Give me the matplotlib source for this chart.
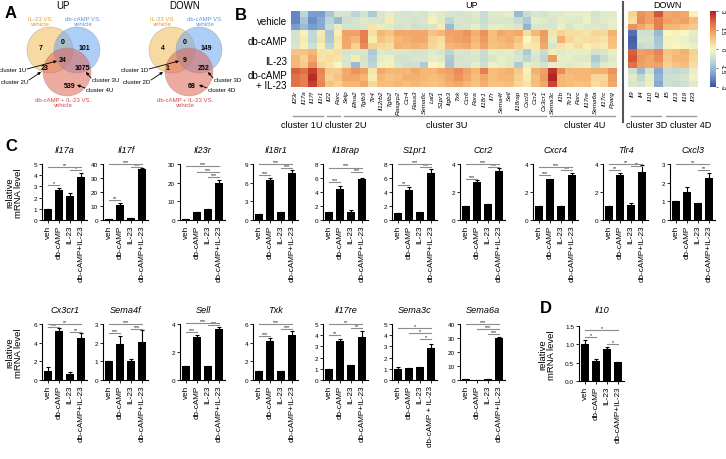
import numpy as np
import matplotlib
matplotlib.use('Agg')
import matplotlib.pyplot as plt
from matplotlib.colors import LinearSegmentedColormap
from matplotlib.patches import Circle

plt.rcParams['font.family'] = ['Liberation Sans', 'DejaVu Sans']

# ---------------- DATA ----------------
venn_up_counts = [7, 0, 101, 24, 23, 1075, 539]
venn_down_counts = [4, 0, 149, 9, 1, 252, 68]

heat_rows = ['vehicle', 'db-cAMP', 'IL-23', 'db-cAMP\n+ IL-23']
cbar_ticks = [-3, -1.5, 0, 1.5, 3]
cbar_labels = ['-3', '-1.5', '0', '1.5', '3']

c1u_genes = ['Il23r', 'Il17a', 'Il17f', 'Il1r1']
c1u = [
    [-2.3, -2.3, -2.0, -0.6, -0.6, -0.5, 0.8, 1.0, 1.0, 2.2, 2.0, 2.0],
    [-1.0, -1.3, -1.5, 0.1, 0.2, 0.1, 0.8, 0.6, 0.7, 2.0, 1.8, 1.8],
    [-2.0, -2.2, -2.0, -0.9, -0.9, -0.7, 1.0, 1.2, 1.5, 2.6, 2.8, 2.6],
    [-2.0, -1.8, -1.8, 0.2, 0.3, 0.1, 0.3, 0.3, 0.5, 1.7, 1.6, 1.7],
]
c2u_genes = ['Il22', 'Rorc']
c2u = [
    [-1.3, -1.0, -0.8, -1.3, -1.2, -1.0, 0.3, 0.4, 0.3, 0.7, 0.6, 0.8],
    [-0.5, -1.5, -0.3, 0.1, 0.3, 0.2, 0.4, 0.3, 0.0, 0.7, 0.8, 0.6],
]
c3u_genes = ['Selp', 'Efna2', 'Tgfb3', 'Tlr4', 'Il12rb2', 'Tgfb2', 'Rasgrp2',
             'Ccr4', 'Rasa3', 'Sema6c', 'Lat2', 'S1pr1', 'Itgb3', 'Txk', 'Ccr6',
             'Rora', 'Il18r1', 'Il7r', 'Sema4f', 'Sell', 'Il18rap', 'Cxcl3',
             'Ccr2', 'Cx3cr1']
c3u = [
    [-0.6, -0.7, -0.6, 1.3, 1.2, 1.2, -0.6, -0.5, -0.5, 1.2, 1.2, 1.0],
    [-1.0, -0.6, -0.6, 1.3, 1.0, 0.6, -0.5, 0.2, -1.5, 1.5, 1.2, 1.0],
    [-0.6, -0.4, -0.5, 1.8, 1.8, 1.6, -0.5, -0.6, -0.5, 1.3, 1.0, 1.2],
    [-1.2, -0.5, 0.3, 0.4, 0.2, 0.6, -1.2, -1.1, -1.0, 0.3, 0.2, 0.5],
    [-0.5, -0.5, -0.3, 1.0, 0.8, 0.5, -0.4, -0.3, -0.2, 1.2, 1.0, 0.9],
    [-0.3, 0.2, -0.4, 0.8, 0.6, 0.4, -0.5, -0.2, 0.1, 1.0, 0.8, 0.9],
    [-0.5, -0.5, -0.6, 1.2, 1.0, 1.1, -0.5, -0.6, -0.5, 1.0, 0.9, 1.0],
    [-0.6, -0.5, -0.5, 1.2, 1.1, 1.0, -0.5, -0.6, -0.7, 1.0, 1.1, 0.9],
    [-0.5, -0.6, -0.7, 1.2, 1.2, 1.1, -0.6, -0.5, -0.7, 1.2, 1.1, 1.0],
    [-0.6, -0.5, -0.6, 1.2, 1.2, 1.0, -0.6, -0.5, -1.2, 1.0, 1.0, 0.9],
    [-0.3, 0.1, -0.5, 0.8, 0.6, 0.5, -0.4, -0.3, 0.0, 1.0, 0.9, 0.8],
    [-0.4, -0.4, 0.2, 1.0, 0.4, 0.3, -0.5, -0.4, -0.1, 1.2, 1.0, 0.9],
    [-0.5, -1.0, -1.5, 1.3, 1.2, 1.0, -1.0, -1.2, -1.3, 1.3, 1.2, 1.1],
    [-0.6, -0.5, -0.6, 1.3, 1.3, 1.1, -0.5, -0.6, -0.5, 1.6, 1.5, 1.2],
    [-0.5, -0.6, -0.5, 1.5, 1.4, 1.2, -0.6, -0.5, -0.6, 1.3, 1.2, 1.0],
    [-0.4, -0.5, -0.3, 1.1, 1.0, 0.9, -0.4, -0.5, -0.3, 1.0, 0.9, 0.8],
    [-0.8, -0.8, -0.7, 1.5, 1.4, 1.3, -0.8, -0.8, -0.7, 1.8, 1.2, 1.1],
    [-0.4, -0.5, -0.3, 0.9, 0.9, 0.8, -0.3, -0.5, -0.2, 0.9, 0.9, 0.8],
    [-0.4, -0.5, -0.3, 1.2, 1.0, 0.9, -0.4, -0.3, -0.3, 1.0, 1.0, 0.8],
    [-0.3, -0.5, -0.4, 1.1, 1.1, 1.0, -0.3, -0.4, -0.4, 1.1, 1.0, 0.9],
    [-1.5, -0.8, -0.5, 1.2, 0.8, 0.6, -0.6, -0.5, -1.2, 0.7, 0.6, 0.5],
    [-0.8, -1.2, -1.6, 0.4, 0.0, 0.2, -1.2, -1.0, -0.3, 0.1, 0.2, 0.3],
    [-0.5, -0.3, -0.5, 1.0, 0.4, 0.3, -0.4, -0.5, -0.4, 1.1, 0.9, 0.9],
    [-0.6, -0.4, -0.5, 1.4, 1.3, 1.2, -0.8, -1.0, -0.6, 1.3, 1.4, 1.2],
]
c4u_genes = ['Sema3c', 'Il1b', 'Tlr12', 'Rorc', 'Il17re', 'Sema6a', 'Il17rc', 'Pparg']
c4u = [
    [-0.4, -0.5, -0.5, 0.3, -0.3, -0.5, 0.2, 1.4, -0.3, 2.7, 2.9, 2.5],
    [-0.4, -0.3, -0.2, 0.6, 1.1, 0.3, -0.4, -0.3, -0.3, 1.6, 1.0, 1.0],
    [-0.3, -0.4, -0.5, 0.4, 0.5, 0.2, -0.3, -0.3, -0.4, 1.0, 0.9, 0.9],
    [-0.3, -0.4, -0.3, 0.4, 0.3, 0.4, -0.3, -0.4, -0.3, 1.0, 1.0, 0.8],
    [-0.3, -0.2, -0.4, 0.3, 0.4, 0.1, -0.3, -0.4, -0.2, 1.0, 1.0, 0.9],
    [-0.6, -0.5, -0.4, 0.5, 0.4, 0.3, -0.6, -1.2, -0.9, 1.1, 0.5, 0.4],
    [-0.4, -0.4, -0.5, 0.5, 0.3, 0.2, -0.5, -0.8, -0.4, 1.1, 0.5, 0.6],
    [-0.4, -0.3, -0.3, 1.1, 0.9, 0.8, -0.3, -0.4, -0.3, 1.5, 1.3, 1.2],
]
c3d_genes = ['Il9', 'Il4', 'Il10', 'Il2']
c3d = [
    [0.6, 0.4, 1.5, -2.6, -2.8, -2.7, 2.2, 2.3, 2.0, -0.7, -0.4, -0.5],
    [1.5, 1.6, 1.2, -0.7, -0.6, -0.8, 1.3, 1.4, 1.3, -1.5, -0.9, -0.6],
    [1.3, 1.3, 0.9, -0.7, -0.6, -0.7, 1.4, 1.2, 1.2, -0.6, -0.3, -0.2],
    [2.3, 1.8, 1.8, -1.5, -1.3, -1.2, 1.7, 1.6, 1.3, -1.8, -1.6, -1.8],
]
c4d_genes = ['Il5', 'Il13', 'Il19', 'Il33']
c4d = [
    [1.2, 1.3, 1.0, 0.0, 0.1, -0.1, 0.8, 0.7, 0.6, -0.8, -0.7, -0.7],
    [1.3, 1.2, 1.0, 0.1, -0.1, 0.0, 0.9, 1.0, 0.8, -0.9, -0.7, -0.8],
    [1.2, 1.3, 0.8, 0.0, -0.2, -0.1, 1.1, 1.0, 0.9, -0.8, -0.6, -0.7],
    [0.1, 0.9, 0.7, -0.3, -0.4, -0.2, 0.6, 0.5, 0.4, -0.3, -0.1, -0.4],
]

bar_groups = ['veh', 'db-cAMP', 'IL-23', 'db-cAMP+IL-23']

row1_genes = ['Il17a', 'Il17f', 'Il23r', 'Il18r1', 'Il18rap', 'S1pr1', 'Ccr2', 'Cxcr4', 'Tlr4', 'Cxcl3']
row1_means = [
    [1.0, 2.7, 2.15, 3.85],
    [1.0, 11.0, 1.5, 36.5],
    [0.5, 4.5, 6.0, 20.0],
    [1.0, 6.5, 1.3, 7.5],
    [1.1, 4.4, 1.1, 5.9],
    [1.0, 4.3, 1.1, 6.7],
    [1.0, 2.75, 1.15, 3.5],
    [1.0, 2.95, 1.0, 3.2],
    [1.0, 3.2, 1.05, 3.4],
    [1.0, 1.5, 0.9, 2.25],
]
row1_errs = [
    [0.0, 0.15, 0.3, 0.35],
    [0.0, 1.5, 0.0, 1.0],
    [0.0, 0.0, 0.0, 1.5],
    [0.0, 0.3, 0.0, 0.6],
    [0.0, 0.4, 0.3, 0.1],
    [0.0, 0.4, 0.0, 0.6],
    [0.0, 0.1, 0.0, 0.2],
    [0.0, 0.0, 0.0, 0.15],
    [0.0, 0.15, 0.15, 0.55],
    [0.0, 0.25, 0.0, 0.25],
]
row1_yticks = [
    [0, 1, 2, 3, 4, 5], [0, 10, 20, 30, 40], [0, 10, 20, 30], [0, 3, 6, 9],
    [0, 2, 4, 6, 8], [0, 2, 4, 6, 8], [0, 2, 4], [0, 2, 4], [0, 2, 4], [0, 1, 2, 3],
]
row1_sigs = [
    [(0, 1, 3.1, '*'), (0, 3, 4.7, '**'), (2, 3, 4.45, '*')],
    [(0, 1, 14, '**'), (0, 3, 40, '***'), (2, 3, 38, '***')],
    [(0, 3, 29, '***'), (1, 3, 25.5, '***'), (2, 3, 23, '***')],
    [(0, 1, 7.3, '***'), (0, 3, 9.0, '***'), (2, 3, 8.3, '***')],
    [(0, 1, 5.4, '***'), (0, 3, 7.5, '***'), (2, 3, 6.9, '***')],
    [(0, 1, 5.0, '**'), (0, 3, 8.0, '***'), (2, 3, 7.6, '***')],
    [(0, 1, 2.95, '***'), (0, 3, 4.0, '***'), (2, 3, 3.8, '***')],
    [(0, 1, 3.2, '***'), (0, 3, 3.8, '***'), (2, 3, 3.6, '***')],
    [(0, 1, 3.6, '**'), (0, 3, 4.0, '**'), (2, 3, 3.85, '**')],
    [(0, 3, 3.0, '**'), (2, 3, 2.7, '**')],
]

row2_genes = ['Cx3cr1', 'Sema4f', 'Sell', 'Txk', 'Il17re', 'Sema3c', 'Sema6a']
row2_means = [
    [1.0, 5.2, 0.6, 4.5],
    [1.0, 1.95, 1.0, 2.05],
    [1.0, 3.1, 1.0, 3.65],
    [1.0, 4.2, 1.0, 4.8],
    [1.0, 3.5, 1.35, 3.8],
    [0.95, 1.1, 1.2, 2.85],
    [1.0, 0.3, 0.8, 30.0],
]
row2_errs = [
    [0.35, 0.4, 0.25, 0.5],
    [0.0, 0.4, 0.1, 0.65],
    [0.0, 0.1, 0.0, 0.15],
    [0.0, 0.3, 0.0, 0.4],
    [0.0, 0.15, 0.0, 0.55],
    [0.2, 0.0, 0.0, 0.4],
    [0.0, 0.0, 0.0, 1.0],
]
row2_yticks = [
    [0, 2, 4, 6], [0, 1, 2, 3], [0, 2, 4], [0, 2, 4, 6], [0, 1, 2, 3, 4, 5],
    [0, 1, 2, 3, 4, 5], [0, 10, 20, 30, 40],
]
row2_sigs = [
    [(0, 1, 5.7, '***'), (0, 3, 6.0, '**'), (2, 3, 5.1, '**')],
    [(0, 1, 2.5, '***'), (0, 3, 3.0, '***'), (2, 3, 2.75, '***')],
    [(0, 1, 3.4, '***'), (0, 3, 4.1, '***'), (2, 3, 3.9, '***')],
    [(0, 1, 4.7, '***'), (0, 3, 6.0, '***'), (2, 3, 5.5, '***')],
    [(0, 1, 4.0, '**'), (0, 3, 5.0, '**'), (2, 3, 4.6, '**')],
    [(0, 3, 4.6, '*'), (1, 3, 4.2, '*'), (2, 3, 3.7, '*')],
    [(0, 3, 40, '***'), (1, 3, 36.5, '***'), (2, 3, 33, '***')],
]

d_gene = 'Il10'
d_means = [1.0, 0.55, 0.88, 0.52]
d_errs = [0.12, 0.05, 0.05, 0.0]
d_yticks = [0.0, 0.5, 1.0, 1.5]
d_sigs = [(0, 1, 1.2, '*'), (0, 3, 1.4, '*'), (2, 3, 1.0, '*')]

# ---------------- FIGURE ----------------
W, H = 726, 460
fig = plt.figure(figsize=(7.26, 4.6), dpi=100)


def box(x0, y0, x1, y1):
    return [x0 / W, 1 - y1 / H, (x1 - x0) / W, (y1 - y0) / H]


ov = fig.add_axes([0, 0, 1, 1])
ov.set_xlim(0, W)
ov.set_ylim(H, 0)
ov.axis('off')

# panel letters
for lt, (lx, ly) in zip('ABCD', [(11, 14), (241, 15), (11, 147), (546, 309)]):
    ov.text(lx, ly, lt, fontsize=12, fontweight='bold', ha='center', va='center')

# ---------------- A: Venn ----------------
YEL, BLU, RED = '#f0bd55', '#6aa6f2', '#de6455'


def venn(dx, title, counts, clabels):
    ov.text(63 + dx, 6, title, fontsize=7, ha='center', va='center')
    for (cx, cy, r, col) in [(50, 51, 23, YEL), (77, 51, 23, BLU), (67, 73, 24, RED)]:
        ov.add_patch(Circle((cx + dx, cy), r, facecolor=col, alpha=0.55,
                            edgecolor='#888888', lw=0.4))
    pos = [(41, 48), (63, 43), (84, 48), (63, 61), (45, 69), (82, 68), (70, 86)]
    for (px, py), c in zip(pos, counts):
        ov.text(px + dx, py, str(c), fontsize=5, fontweight='bold', ha='center', va='center')
    ov.text(40 + dx, 22, 'IL-23 VS.\nvehicle', fontsize=4.3, color='#e0a020',
            ha='center', va='center', linespacing=1.1)
    ov.text(83 + dx, 22, 'db-cAMP VS.\nvehicle', fontsize=4.3, color='#5a96e6',
            ha='center', va='center', linespacing=1.1)
    ov.text(63 + dx, 103, 'db-cAMP + IL-23 VS.\nvehicle', fontsize=4.3, color='#d04848',
            ha='center', va='center', linespacing=1.1)
    arr = dict(arrowstyle='-|>', lw=0.6, color='black', mutation_scale=4,
               shrinkA=0, shrinkB=0)
    ov.annotate('', xy=(57 + dx, 62), xytext=(27 + dx, 70), arrowprops=arr)
    ov.annotate('', xy=(41 + dx, 73), xytext=(29 + dx, 81), arrowprops=arr)
    ov.annotate('', xy=(86 + dx, 73), xytext=(91 + dx, 79), arrowprops=arr)
    ov.annotate('', xy=(77 + dx, 86), xytext=(85 + dx, 89), arrowprops=arr)
    ov.text(26 + dx, 70, clabels[0], fontsize=4.3, ha='right', va='center')
    ov.text(28 + dx, 82, clabels[1], fontsize=4.3, ha='right', va='center')
    ov.text(92 + dx, 80, clabels[2], fontsize=4.3, ha='left', va='center')
    ov.text(86 + dx, 90, clabels[3], fontsize=4.3, ha='left', va='center')


venn(0, 'UP', venn_up_counts, ['cluster 1U', 'cluster 2U', 'cluster 3U', 'cluster 4U'])
venn(122, 'DOWN', venn_down_counts, ['cluster 1D', 'cluster 2D', 'cluster 3D', 'cluster 4D'])

# ---------------- B: heatmap ----------------
cmap = LinearSegmentedColormap.from_list(
    'hm', ['#3b4fa0', '#7b9fd0', '#bcd6d8', '#f8f8c0', '#f6b774', '#e27248', '#b01e1e'])

up_genes = c1u_genes + c2u_genes + c3u_genes + c4u_genes
up_mat = np.array(c1u + c2u + c3u + c4u).T
down_genes = c3d_genes + c4d_genes
down_mat = np.array(c3d + c4d).T

HX0, HX1, HY0, HY1 = 291, 617, 12, 88
axu = fig.add_axes(box(HX0, HY0, HX1, HY1))
im = axu.imshow(up_mat, cmap=cmap, vmin=-3, vmax=3, aspect='auto', interpolation='nearest')
DX0, DX1 = 628, 698
axd = fig.add_axes(box(DX0, HY0, DX1, HY1))
axd.imshow(down_mat, cmap=cmap, vmin=-3, vmax=3, aspect='auto', interpolation='nearest')
for ax, genes in [(axu, up_genes), (axd, down_genes)]:
    ax.set_xticks(range(len(genes)))
    ax.set_xticklabels(genes, rotation=90, fontsize=4.6, style='italic', va='top')
    ax.set_yticks([])
    ax.tick_params(axis='x', length=0, pad=2)
    for s in ax.spines.values():
        s.set_visible(False)

ov.text(472, 5, 'UP', fontsize=6.5, ha='center', va='center')
ov.text(667, 5, 'DOWN', fontsize=6.5, ha='center', va='center')
for lab, yy in zip(heat_rows, [22, 42, 62, 81]):
    ov.text(287, yy, lab, fontsize=7, ha='right', va='center', linespacing=1.05)
ov.plot([623, 623], [3, 123], color='#555555', lw=1.5)

# cluster underlines
ucw = (HX1 - HX0) / len(up_genes)
dcw = (DX1 - DX0) / len(down_genes)
up_clusters = [('cluster 1U', 0, 4), ('cluster 2U', 4, 6), ('cluster 3U', 6, 30), ('cluster 4U', 30, 38)]
down_clusters = [('cluster 3D', 0, 4), ('cluster 4D', 4, 8)]
for name, a, b in up_clusters:
    xa, xb = HX0 + a * ucw + 2, HX0 + b * ucw - 2
    ov.plot([xa, xb], [117, 117], color='#999999', lw=1.0)
for name, xc in zip([c[0] for c in up_clusters], [302, 346, 447, 585]):
    ov.text(xc, 126, name, fontsize=6.6, ha='center', va='center')
for name, a, b in down_clusters:
    xa, xb = DX0 + a * dcw + 3, DX0 + b * dcw - 2
    ov.plot([xa, xb], [117, 117], color='#999999', lw=1.0)
for name, xc in zip([c[0] for c in down_clusters], [647, 691]):
    ov.text(xc, 126, name, fontsize=6.6, ha='center', va='center')

cax = fig.add_axes(box(710, HY0, 716, HY1))
cb = fig.colorbar(im, cax=cax, ticks=cbar_ticks)
cb.outline.set_visible(False)
cb.ax.set_yticklabels(cbar_labels)
cb.ax.tick_params(labelsize=4.3, length=1.5, width=0.4, pad=1)
for t in cb.ax.get_yticklabels():
    t.set_rotation(-90)
    t.set_va('center')


# ---------------- C / D: bars ----------------
def bar_panel(x0, y0, y1, title, ty, means, errs, yticks, sigs, labels, fmt='{:g}'):
    ax = fig.add_axes(box(x0, y0, x0 + 45, y1))
    xs = np.arange(len(means))
    ax.bar(xs, means, width=0.72, color='black', zorder=2)
    ax.errorbar(xs, means, yerr=[np.zeros(len(errs)), errs], fmt='none',
                ecolor='black', elinewidth=0.8, capsize=1.6, capthick=0.8, zorder=3)
    ax.set_xlim(-0.55, 3.55)
    ax.set_ylim(0, yticks[-1])
    ax.set_yticks(yticks)
    ax.set_yticklabels([fmt.format(v) for v in yticks])
    ax.set_xticks(xs)
    ax.set_xticklabels(labels, rotation=90, fontsize=5.9)
    ax.tick_params(axis='y', length=2, width=0.6, labelsize=4.6, pad=1.5)
    ax.tick_params(axis='x', length=2, width=0.6, pad=1.5)
    for s in ['top', 'right']:
        ax.spines[s].set_visible(False)
    for s in ['left', 'bottom']:
        ax.spines[s].set_linewidth(0.8)
    for i, j, y, lab in sigs:
        ax.plot([i, j], [y, y], color='#8c8c8c', lw=0.8, clip_on=False, zorder=4)
        ax.text((i + j) / 2, y, lab, fontsize=3.8, ha='center', va='bottom', clip_on=False)
    ov.text(x0 + 23, ty, title, fontsize=6.6, style='italic', ha='center', va='center')
    return ax


row_lefts = [42, 103, 180, 253, 323, 392, 460, 533, 603, 670]
for k, g in enumerate(row1_genes):
    bar_panel(row_lefts[k], 165, 221, g, 151, row1_means[k], row1_errs[k],
              row1_yticks[k], row1_sigs[k], bar_groups)
for k, g in enumerate(row2_genes):
    labs = bar_groups if g != 'Sema3c' else ['veh', 'db-cAMP', 'IL-23', 'db-cAMP + IL-23']
    bar_panel(row_lefts[k], 325, 381, g, 311, row2_means[k], row2_errs[k],
              row2_yticks[k], row2_sigs[k], labs)
bar_panel(579, 327, 382, d_gene, 311, d_means, d_errs, d_yticks, d_sigs,
          bar_groups, fmt='{:.1f}')

for (xx, yy) in [(14, 193), (14, 353), (547, 355)]:
    ov.text(xx, yy, 'relative\nmRNA level', rotation=90, fontsize=6.8,
            ha='center', va='center', linespacing=1.0)

fig.savefig('out.png', dpi=100)
